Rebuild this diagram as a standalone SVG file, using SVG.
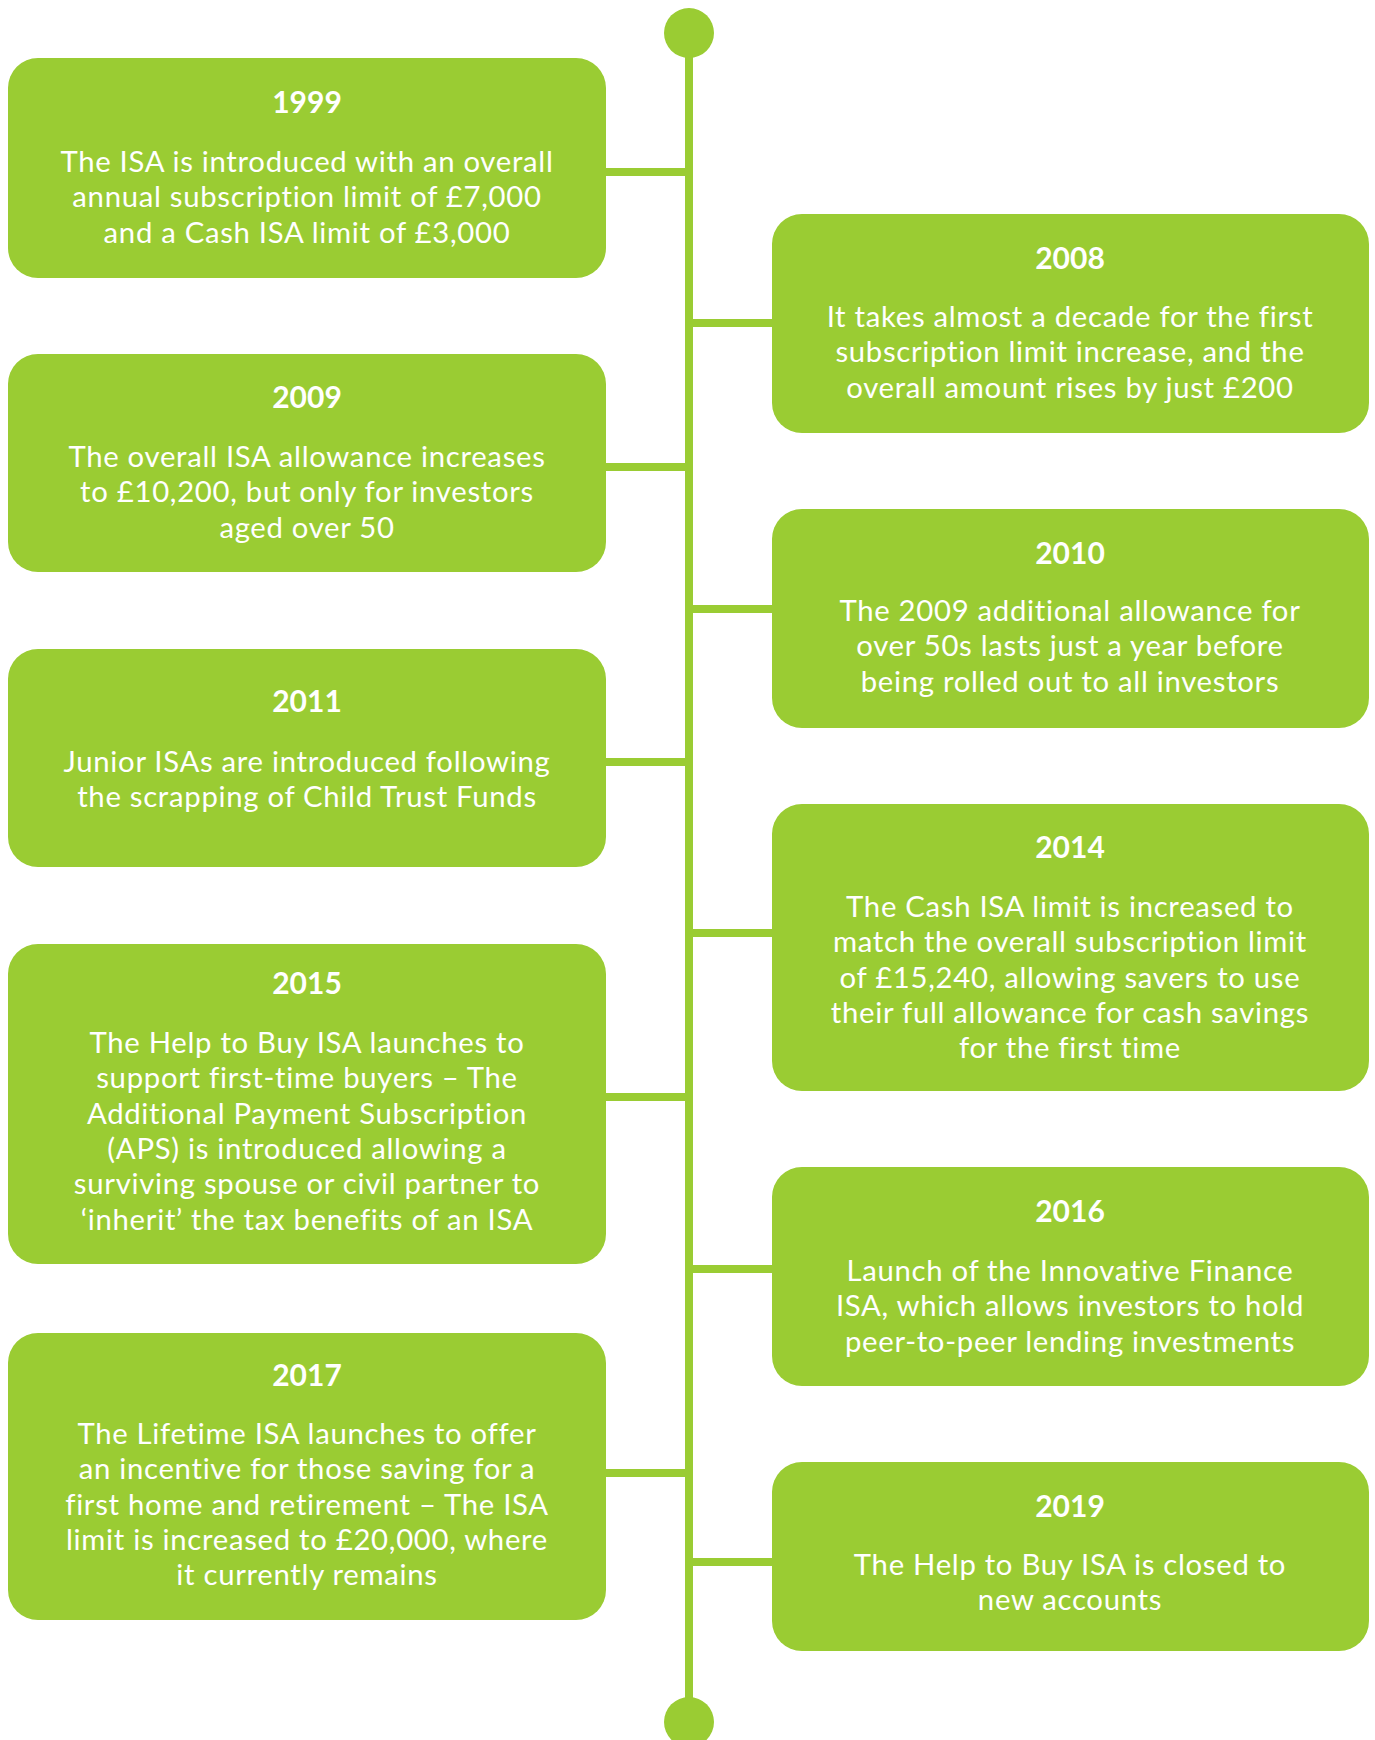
<svg xmlns="http://www.w3.org/2000/svg" width="1375" height="1740" viewBox="0 0 1375 1740">
<style>
.box{fill:#9ACC33}
.ln{stroke:#9ACC33;stroke-width:8;fill:none}
.dot{fill:#9ACC33}
.yr{font-family:Lato,"Liberation Sans",sans-serif;font-weight:bold;font-size:30px;fill:#fff;text-anchor:middle}
.tx{font-family:Lato,"Liberation Sans",sans-serif;font-size:29.3px;letter-spacing:0.7px;fill:#fff;text-anchor:middle}
</style>
<rect width="1375" height="1740" fill="#fff"/>
<g id="connectors">
<line class="ln" x1="689" y1="33" x2="689" y2="1722"/>
<circle class="dot" cx="689" cy="33" r="25"/>
<circle class="dot" cx="689" cy="1722" r="25"/>
<line class="ln" x1="600" y1="172" x2="689" y2="172"/>
<line class="ln" x1="689" y1="323" x2="778" y2="323"/>
<line class="ln" x1="600" y1="467" x2="689" y2="467"/>
<line class="ln" x1="689" y1="609" x2="778" y2="609"/>
<line class="ln" x1="600" y1="762" x2="689" y2="762"/>
<line class="ln" x1="689" y1="933" x2="778" y2="933"/>
<line class="ln" x1="600" y1="1097" x2="689" y2="1097"/>
<line class="ln" x1="689" y1="1269" x2="778" y2="1269"/>
<line class="ln" x1="600" y1="1473" x2="689" y2="1473"/>
<line class="ln" x1="689" y1="1562" x2="778" y2="1562"/>
</g>
<g id="n1999">
<rect class="box" x="8" y="58" width="598" height="220" rx="30"/>
<text class="yr" x="307" y="113">1999</text>
<text class="tx" x="307" y="172">The ISA is introduced with an overall</text>
<text class="tx" x="307" y="207.3">annual subscription limit of £7,000</text>
<text class="tx" x="307" y="242.6">and a Cash ISA limit of £3,000</text>
</g>
<g id="n2008">
<rect class="box" x="772" y="214" width="597" height="219" rx="30"/>
<text class="yr" x="1070" y="269">2008</text>
<text class="tx" x="1070" y="327">It takes almost a decade for the first</text>
<text class="tx" x="1070" y="362.3">subscription limit increase, and the</text>
<text class="tx" x="1070" y="397.6">overall amount rises by just £200</text>
</g>
<g id="n2009">
<rect class="box" x="8" y="354" width="598" height="218" rx="30"/>
<text class="yr" x="307" y="408">2009</text>
<text class="tx" x="307" y="467">The overall ISA allowance increases</text>
<text class="tx" x="307" y="502.3">to £10,200, but only for investors</text>
<text class="tx" x="307" y="537.6">aged over 50</text>
</g>
<g id="n2010">
<rect class="box" x="772" y="509" width="597" height="219" rx="30"/>
<text class="yr" x="1070" y="564">2010</text>
<text class="tx" x="1070" y="621">The 2009 additional allowance for</text>
<text class="tx" x="1070" y="656.3">over 50s lasts just a year before</text>
<text class="tx" x="1070" y="691.6">being rolled out to all investors</text>
</g>
<g id="n2011">
<rect class="box" x="8" y="649" width="598" height="218" rx="30"/>
<text class="yr" x="307" y="712">2011</text>
<text class="tx" x="307" y="772">Junior ISAs are introduced following</text>
<text class="tx" x="307" y="807.3">the scrapping of Child Trust Funds</text>
</g>
<g id="n2014">
<rect class="box" x="772" y="804" width="597" height="287" rx="30"/>
<text class="yr" x="1070" y="858">2014</text>
<text class="tx" x="1070" y="917">The Cash ISA limit is increased to</text>
<text class="tx" x="1070" y="952.3">match the overall subscription limit</text>
<text class="tx" x="1070" y="987.6">of £15,240, allowing savers to use</text>
<text class="tx" x="1070" y="1022.9">their full allowance for cash savings</text>
<text class="tx" x="1070" y="1058.2">for the first time</text>
</g>
<g id="n2015">
<rect class="box" x="8" y="944" width="598" height="320" rx="30"/>
<text class="yr" x="307" y="994">2015</text>
<text class="tx" x="307" y="1053">The Help to Buy ISA launches to</text>
<text class="tx" x="307" y="1088.3">support first-time buyers – The</text>
<text class="tx" x="307" y="1123.6">Additional Payment Subscription</text>
<text class="tx" x="307" y="1158.9">(APS) is introduced allowing a</text>
<text class="tx" x="307" y="1194.2">surviving spouse or civil partner to</text>
<text class="tx" x="307" y="1229.5">‘inherit’ the tax benefits of an ISA</text>
</g>
<g id="n2016">
<rect class="box" x="772" y="1167" width="597" height="219" rx="30"/>
<text class="yr" x="1070" y="1222">2016</text>
<text class="tx" x="1070" y="1281">Launch of the Innovative Finance</text>
<text class="tx" x="1070" y="1316.3">ISA, which allows investors to hold</text>
<text class="tx" x="1070" y="1351.6">peer-to-peer lending investments</text>
</g>
<g id="n2017">
<rect class="box" x="8" y="1333" width="598" height="287" rx="30"/>
<text class="yr" x="307" y="1386">2017</text>
<text class="tx" x="307" y="1444">The Lifetime ISA launches to offer</text>
<text class="tx" x="307" y="1479.3">an incentive for those saving for a</text>
<text class="tx" x="307" y="1514.6">first home and retirement – The ISA</text>
<text class="tx" x="307" y="1549.9">limit is increased to £20,000, where</text>
<text class="tx" x="307" y="1585.2">it currently remains</text>
</g>
<g id="n2019">
<rect class="box" x="772" y="1462" width="597" height="189" rx="30"/>
<text class="yr" x="1070" y="1517">2019</text>
<text class="tx" x="1070" y="1575">The Help to Buy ISA is closed to</text>
<text class="tx" x="1070" y="1610.3">new accounts</text>
</g>
</svg>
